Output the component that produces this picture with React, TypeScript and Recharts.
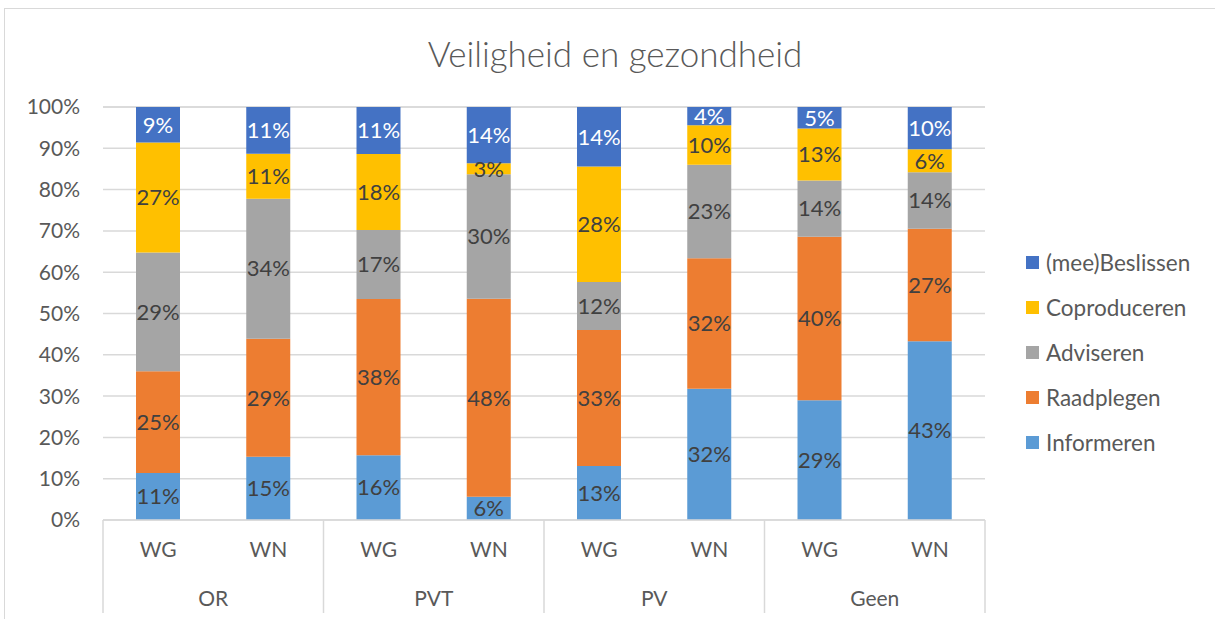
import { BarChart, Bar, XAxis, YAxis, CartesianGrid, Legend, LabelList } from 'recharts';

const subLabels = ['WG', 'WN', 'WG', 'WN', 'WG', 'WN', 'WG', 'WN'];
const groups = ['OR', 'OR', 'PVT', 'PVT', 'PV', 'PV', 'Geen', 'Geen'];
const informeren = [11.4, 15.3, 15.7, 5.6, 13.1, 31.8, 29.0, 43.3];
const raadplegen = [24.6, 28.6, 37.8, 48.0, 32.9, 31.6, 39.6, 27.2];
const adviseren = [28.8, 33.9, 16.7, 30.1, 11.6, 22.6, 13.6, 13.7];
const coproduceren = [26.6, 10.9, 18.4, 2.7, 28.0, 9.6, 12.6, 5.6];
const beslissen = [8.6, 11.3, 11.4, 13.6, 14.4, 4.4, 5.2, 10.2];
const yTicks = [0, 10, 20, 30, 40, 50, 60, 70, 80, 90, 100];

const series = [
  { key: 'informeren', name: 'Informeren', color: '#5B9BD5', text: '#404040' },
  { key: 'raadplegen', name: 'Raadplegen', color: '#ED7D31', text: '#404040' },
  { key: 'adviseren', name: 'Adviseren', color: '#A5A5A5', text: '#404040' },
  { key: 'coproduceren', name: 'Coproduceren', color: '#FFC000', text: '#404040' },
  { key: 'beslissen', name: '(mee)Beslissen', color: '#4472C4', text: '#FFFFFF' },
];

const data = subLabels.map((sub, i) => ({
  sub,
  group: groups[i],
  informeren: informeren[i],
  raadplegen: raadplegen[i],
  adviseren: adviseren[i],
  coproduceren: coproduceren[i],
  beslissen: beslissen[i],
}));

const FONT = 'Lato, "Open Sans", sans-serif';
const AXIS_TEXT = '#595959';
const LINE = '#D9D9D9';

// group label plus the separator lines on either side of its band
function GroupTick(props: any) {
  const { x, y, payload, index, visibleTicksCount, width } = props;
  const band = (Number(width) || 882) / (visibleTicksCount || 4);
  const left = x - band / 2;
  const right = x + band / 2;
  const top = y - 71;
  const bottom = y + 22;
  return (
    <g>
      <line x1={left} x2={left} y1={top} y2={bottom} stroke={LINE} strokeWidth={1.5} />
      {index === visibleTicksCount - 1 && (
        <line x1={right} x2={right} y1={top} y2={bottom} stroke={LINE} strokeWidth={1.5} />
      )}
      <text x={x} y={y} dy="0.71em" textAnchor="middle" fill={AXIS_TEXT} fontSize={21} fontFamily={FONT}>
        {payload.value}
      </text>
    </g>
  );
}

function LegendBox() {
  const items = [...series].reverse();
  return (
    <div style={{ fontFamily: FONT }}>
      {items.map((s) => (
        <div key={s.key} style={{ display: 'flex', alignItems: 'center', height: 45 }}>
          <span style={{ width: 13, height: 13, background: s.color, display: 'inline-block', marginRight: 7 }} />
          <span style={{ fontSize: 22.5, color: AXIS_TEXT }}>{s.name}</span>
        </div>
      ))}
    </div>
  );
}

export default function App() {
  return (
    <div style={{ position: 'absolute', left: 0, top: 0, width: 1215, height: 619, background: '#fff', overflow: 'hidden' }}>
      <div style={{ position: 'absolute', left: 4, top: 8, width: 1230, height: 640, borderLeft: '1px solid #D9D9D9', borderTop: '1px solid #D9D9D9' }} />
      <div style={{ position: 'absolute', left: 0, top: 32, width: 1230, textAlign: 'center', fontFamily: FONT, fontWeight: 300, fontSize: 35, color: AXIS_TEXT }}>
        Veiligheid en gezondheid
      </div>
      <BarChart
        width={1215}
        height={619}
        data={data}
        margin={{ top: 107, right: 230, bottom: 2, left: 23 }}
        style={{ position: 'absolute', left: 0, top: 0 }}
      >
        <CartesianGrid xAxisId="b_sub" vertical={false} stroke={LINE} strokeWidth={1.5} />
        <XAxis
          xAxisId="b_sub"
          dataKey="sub"
          height={47}
          axisLine={{ stroke: LINE, strokeWidth: 1.5 }}
          tickLine={false}
          tickSize={0}
          tickMargin={22}
          interval={0}
          tick={{ fill: AXIS_TEXT, fontSize: 21, fontFamily: FONT }}
        />
        <XAxis
          xAxisId="c_group"
          dataKey="group"
          allowDuplicatedCategory={false}
          height={50}
          axisLine={false}
          tickLine={false}
          tickSize={0}
          tickMargin={24}
          interval={0}
          tick={<GroupTick />}
        />
        <YAxis
          domain={[0, 100]}
          ticks={yTicks}
          width={80}
          axisLine={false}
          tickLine={false}
          tickMargin={17}
          tickFormatter={(v) => `${v}%`}
          tick={{ fill: AXIS_TEXT, fontSize: 21, fontFamily: FONT }}
        />
        <Legend
          layout="vertical"
          align="center"
          verticalAlign="middle"
          content={() => <LegendBox />}
          wrapperStyle={{ left: 1026, top: 240, width: 189, height: 230 }}
        />
        {series.map((s) => (
          <Bar key={s.key} xAxisId="b_sub" dataKey={s.key} name={s.name} stackId="a" fill={s.color} barSize={44} isAnimationActive={false}>
            <LabelList
              dataKey={s.key}
              position="center"
              formatter={(v: number) => `${Math.round(v)}%`}
              fill={s.text}
              fontSize={22}
              fontFamily={FONT}
            />
          </Bar>
        ))}
      </BarChart>
    </div>
  );
}
